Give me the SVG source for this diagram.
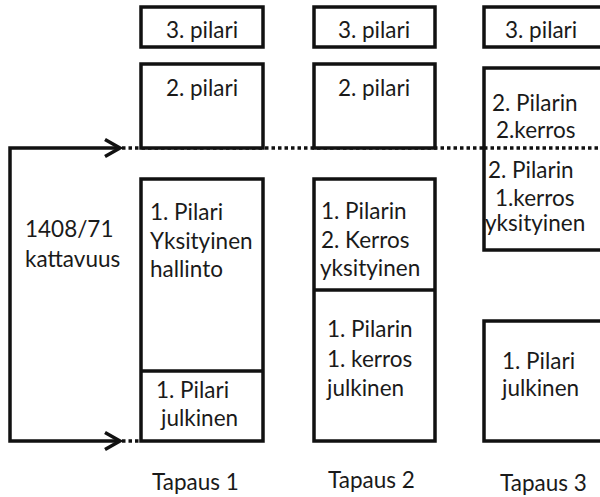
<svg xmlns="http://www.w3.org/2000/svg" width="600" height="497" viewBox="0 0 600 497">
<style>
.box{fill:#fff;stroke:#111;stroke-width:3.5}
.ln{fill:none;stroke:#111;stroke-width:3.5}
.dot{fill:none;stroke:#111;stroke-width:3.5;stroke-dasharray:3.5 3}
text{font-family:Lato,"Open Sans",sans-serif;font-size:22.5px;fill:#1a1a1a}
.c{text-anchor:middle}
</style>
<rect width="600" height="497" fill="#fff"/>
<g id="connectors">
<path class="ln" d="M120,148 H10 V441 H120"/>
<path class="ln" d="M105,139.5 L120,148 L105,156.5"/>
<path class="ln" d="M105,432.5 L120,441 L105,449.5"/>
<path class="dot" d="M122,148 H600"/>
<path class="dot" d="M122,441 H141"/>
</g>
<g id="t1-p3"><rect class="box" x="141" y="7" width="122" height="40"/><text class="c" x="202" y="38">3. pilari</text></g>
<g id="t1-p2"><rect class="box" x="141" y="64" width="122" height="84"/><text class="c" x="202" y="96">2. pilari</text></g>
<g id="t1-p1"><rect class="box" x="141" y="179" width="122" height="262"/><line class="ln" x1="141" y1="371" x2="263" y2="371"/>
<text x="150" y="220">1. Pilari</text><text x="150" y="249">Yksityinen</text><text x="150" y="277">hallinto</text>
<text x="156" y="398">1. Pilari</text><text x="161" y="426">julkinen</text></g>
<g id="t2-p3"><rect class="box" x="314" y="7" width="121" height="40"/><text class="c" x="374" y="38">3. pilari</text></g>
<g id="t2-p2"><rect class="box" x="314" y="64" width="121" height="84"/><text class="c" x="374" y="96">2. pilari</text></g>
<g id="t2-p1"><rect class="box" x="314" y="179" width="121" height="262"/><line class="ln" x1="314" y1="290" x2="435" y2="290"/>
<text x="321" y="219">1. Pilarin</text><text x="321" y="248">2. Kerros</text><text x="320" y="276">yksityinen</text>
<text x="327" y="337">1. Pilarin</text><text x="327" y="367">1. kerros</text><text x="327" y="396">julkinen</text></g>
<g id="t3-p3"><rect class="box" x="484" y="7" width="130" height="40"/><text x="505" y="38">3. pilari</text></g>
<g id="t3-p2"><rect class="box" x="484" y="68" width="130" height="182"/>
<text x="492" y="111">2. Pilarin</text><text x="496" y="138">2.kerros</text>
<text x="488" y="178">2. Pilarin</text><text x="495" y="206">1.kerros</text><text x="485" y="231">yksityinen</text></g>
<path class="dot" d="M484,148 H600"/>
<g id="t3-p1"><rect class="box" x="484" y="321" width="130" height="120"/><text x="502" y="369">1. Pilari</text><text x="502" y="396">julkinen</text></g>
<g id="labels">
<text x="25" y="237">1408/71</text><text x="25" y="267">kattavuus</text>
<text x="152" y="490">Tapaus 1</text><text x="328" y="488">Tapaus 2</text><text x="500" y="491">Tapaus 3</text>
</g>
</svg>
